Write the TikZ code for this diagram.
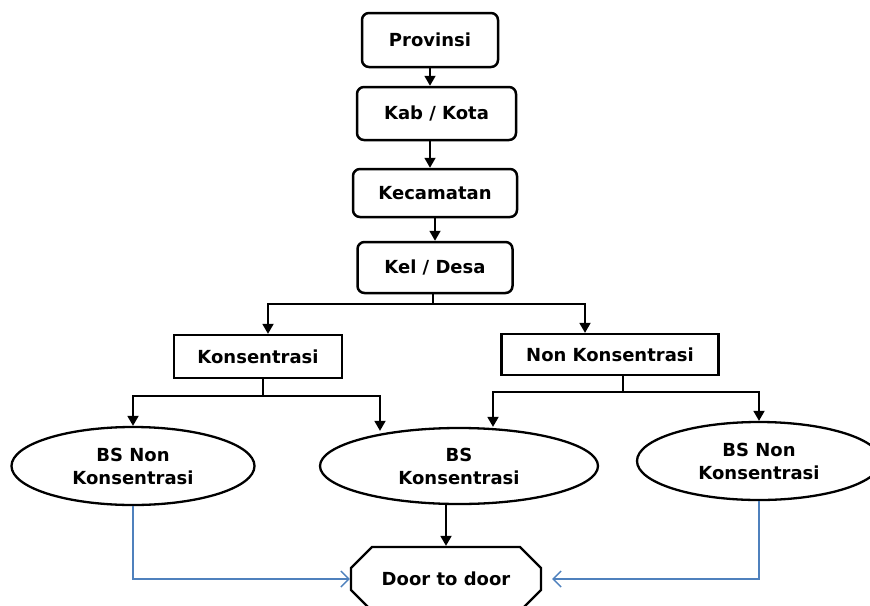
\documentclass[tikz,border=0pt]{standalone}
\usepackage{fontspec}
\setmainfont{DejaVu Sans}
\usetikzlibrary{arrows.meta,shapes.geometric,shapes.misc}
\definecolor{linkblue}{RGB}{79,129,189}
\begin{document}
\begin{tikzpicture}[x=1pt,y=-1pt,
  font=\bfseries\fontsize{18}{23}\selectfont,
  level/.style={draw,line width=2.5pt,rounded corners=7pt,inner sep=0pt},
  group/.style={draw,line width=2.3pt,inner sep=0pt},
  sample/.style={draw,ellipse,line width=2.3pt,inner sep=0pt,align=center},
  visit/.style={draw,chamfered rectangle,chamfered rectangle xsep=14pt,chamfered rectangle ysep=14pt,line width=2.3pt,inner sep=0pt},
  arr/.style={-{Triangle[length=10pt,width=11pt]},line width=1.8pt},
  link/.style={-{Straight Barb[length=8pt,width=16pt]},linkblue,line width=1.4pt}]
\clip (0,0) rectangle (870,605);
\node[level,minimum width=136,minimum height=54] (prov) at (430,40) {Provinsi};
\node[level,minimum width=159,minimum height=53] (kab) at (436.5,113.5) {Kab / Kota};
\node[level,minimum width=164,minimum height=48] (kec) at (435,193) {Kecamatan};
\node[level,minimum width=155,minimum height=51] (kel) at (435,267.5) {Kel / Desa};
\node[group,minimum width=168,minimum height=43] (kons) at (258,356.5) {Konsentrasi};
\node[group,minimum width=217,minimum height=41] (nonk) at (610,354.5) {Non Konsentrasi};
\node[sample,minimum width=243,minimum height=78] (bsl) at (133,466) {BS Non\\Konsentrasi};
\node[sample,minimum width=278,minimum height=76] (bsk) at (459,466) {BS\\Konsentrasi};
\node[sample,minimum width=244,minimum height=78] (bsr) at (759,461) {BS Non\\Konsentrasi};
\node[visit,minimum width=190,minimum height=64] (door) at (446,579) {Door to door};
\draw[arr] (prov.south) -- (prov.south |- kab.north);
\draw[arr] (prov.south |- kab.south) -- (prov.south |- kec.north);
\draw[arr] (kel.north |- kec.south) -- (kel.north);
\draw[arr] ([xshift=-2]kel.south) -- ++(0,10) -| ([xshift=10]kons.north);
\draw[arr] ([xshift=-2]kel.south) -- ++(0,10) -| ([xshift=-25]nonk.north);
\draw[arr] ([xshift=5]kons.south) -- ++(0,17) -| (bsl.north);
\draw[arr] ([xshift=5]kons.south) -- ++(0,17) -| ([xshift=-79,yshift=-4]bsk.north);
\draw[arr] ([xshift=13]nonk.south) -- ++(0,16) -| ([xshift=34]bsk.north);
\draw[arr] ([xshift=13]nonk.south) -- ++(0,16) -| (bsr.north);
\draw[arr] (door.north |- bsk.south) -- (door.north);
\draw[link] (bsl.south) |- (door.west);
\draw[link] (bsr.south) |- ([xshift=10]door.east);
\end{tikzpicture}
\end{document}
